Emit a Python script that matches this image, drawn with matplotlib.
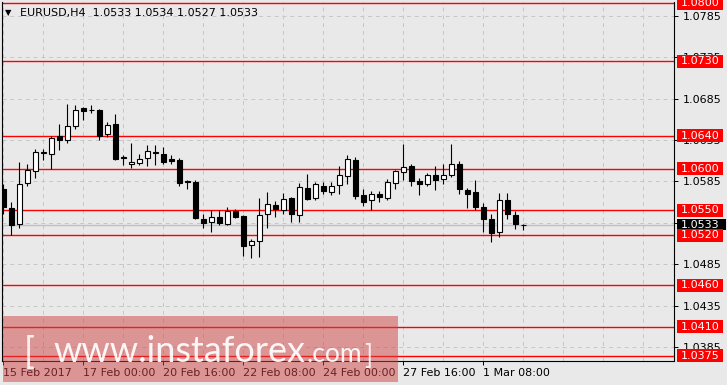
import matplotlib
matplotlib.use("Agg")
import matplotlib.pyplot as plt
from matplotlib.patches import Rectangle
from matplotlib.transforms import blended_transform_factory
import numpy as np

# EURUSD H4 candles
opens = [1.05762, 1.05532, 1.05339, 1.05834, 1.05979, 1.06190, 1.06184, 1.06394, 1.06353, 1.06523,
         1.06732, 1.06706, 1.06708, 1.06426, 1.06547, 1.06144, 1.06060, 1.06076, 1.06136, 1.06209,
         1.06184, 1.06116, 1.06112, 1.05850, 1.05846, 1.05399, 1.05359, 1.05415, 1.05335, 1.05488,
         1.05436, 1.05085, 1.05134, 1.05460, 1.05568, 1.05508, 1.05653, 1.05448, 1.05774, 1.05653,
         1.05798, 1.05725, 1.05810, 1.05919, 1.06112, 1.05689, 1.05629, 1.05701, 1.05649, 1.05830,
         1.05963, 1.06039, 1.05850, 1.05822, 1.05931, 1.05882, 1.05931, 1.06056, 1.05750, 1.05717,
         1.05536, 1.05391, 1.05242, 1.05621, 1.05448, 1.05330]
highs = [1.05814, 1.05601, 1.06080, 1.06056, 1.06237, 1.06237, 1.06398, 1.06547, 1.06780, 1.06768,
         1.06748, 1.06768, 1.06728, 1.06571, 1.06659, 1.06164, 1.06317, 1.06184, 1.06289, 1.06285,
         1.06261, 1.06172, 1.06136, 1.05870, 1.05870, 1.05452, 1.05508, 1.05508, 1.05544, 1.05520,
         1.05444, 1.05158, 1.05645, 1.05725, 1.05617, 1.05705, 1.05661, 1.05830, 1.05935, 1.05846,
         1.05846, 1.05842, 1.06031, 1.06172, 1.06140, 1.05762, 1.05737, 1.05737, 1.05878, 1.05987,
         1.06297, 1.06056, 1.05886, 1.05947, 1.06031, 1.06064, 1.06297, 1.06100, 1.05766, 1.05870,
         1.05584, 1.05452, 1.05709, 1.05709, 1.05488, 1.05340]
lows = [1.05460, 1.05198, 1.05287, 1.05794, 1.05890, 1.06108, 1.05995, 1.06229, 1.06313, 1.06482,
        1.06591, 1.06680, 1.06349, 1.06386, 1.06108, 1.06047, 1.06007, 1.06047, 1.06035, 1.06047,
        1.06056, 1.06056, 1.05794, 1.05758, 1.05391, 1.05287, 1.05238, 1.05323, 1.05319, 1.05407,
        1.04956, 1.04928, 1.04936, 1.05287, 1.05419, 1.05452, 1.05359, 1.05359, 1.05621, 1.05629,
        1.05693, 1.05685, 1.05697, 1.05822, 1.05641, 1.05552, 1.05500, 1.05605, 1.05625, 1.05758,
        1.05862, 1.05790, 1.05685, 1.05794, 1.05746, 1.05814, 1.05903, 1.05697, 1.05528, 1.05504,
        1.05238, 1.05117, 1.05178, 1.05395, 1.05275, 1.05270]
closes = [1.05540, 1.05323, 1.05822, 1.05983, 1.06209, 1.06200, 1.06378, 1.06349, 1.06523, 1.06716,
          1.06700, 1.06710, 1.06402, 1.06535, 1.06120, 1.06128, 1.06088, 1.06124, 1.06221, 1.06192,
          1.06084, 1.06100, 1.05830, 1.05838, 1.05403, 1.05347, 1.05423, 1.05343, 1.05496, 1.05419,
          1.05069, 1.05126, 1.05448, 1.05581, 1.05516, 1.05641, 1.05456, 1.05786, 1.05637, 1.05814,
          1.05733, 1.05798, 1.05931, 1.06124, 1.05673, 1.05605, 1.05701, 1.05665, 1.05846, 1.05979,
          1.06027, 1.05854, 1.05818, 1.05931, 1.05866, 1.05931, 1.06060, 1.05758, 1.05697, 1.05540,
          1.05395, 1.05226, 1.05629, 1.05456, 1.05335, 1.05330]

levels = [1.0800, 1.0730, 1.0640, 1.0600, 1.0550, 1.0520, 1.0460, 1.0410, 1.0375]
bid = 1.0533
ytick_vals = [1.0385, 1.0435, 1.0485, 1.0535, 1.0585, 1.0635, 1.0685, 1.0735, 1.0785]
xtick_labels = ["15 Feb 2017", "17 Feb 00:00", "20 Feb 16:00", "22 Feb 08:00",
                "24 Feb 00:00", "27 Feb 16:00", "1 Mar 08:00"]

bg = "#e9e9e9"
W, H = 727, 385
fig = plt.figure(figsize=(W / 100, H / 100), dpi=100, facecolor=bg)
# axes box in pixels: x 2..674, y 2..361
ax = fig.add_axes([2 / W, (H - 361) / H, 672 / W, 359 / H], facecolor=bg)

o = np.array(opens)
h = np.array(highs)
l = np.array(lows)
c = np.array(closes)
x = np.arange(len(o))

ax.vlines(x, l, h, color="black", linewidth=0.8, zorder=3)
fill = np.where(c >= o, "white", "black")
ax.bar(x, np.abs(c - o), bottom=np.minimum(o, c), width=0.56, color=fill,
       edgecolor="black", linewidth=0.8, zorder=4)

for lv in levels:
    ax.axhline(lv, color="red", linewidth=1.0, zorder=2)
ax.axhline(bid, color="#c0c0c0", linewidth=1.0, zorder=1.8)

ax.set_xlim(-0.16, 83.84)
ax.set_ylim(1.03684, 1.08014)

ax.set_xticks(np.arange(0, 70, 10))
ax.set_xticks(np.arange(0, 85, 5), minor=True)
ax.set_xticklabels(xtick_labels, ha="left", fontsize=8)
ax.set_yticks(ytick_vals)
ax.set_yticklabels(["%.4f" % v for v in ytick_vals], fontsize=8)
ax.yaxis.tick_right()
ax.tick_params(axis="x", which="major", direction="out", length=3, width=0.7, pad=2)
ax.tick_params(axis="x", which="minor", length=0)
ax.tick_params(axis="y", direction="out", length=3, width=0.7, pad=3)
ax.grid(True, which="both", axis="x", color="#c6c6c6", linestyle=(0, (4, 4)), linewidth=0.7)
ax.grid(True, which="major", axis="y", color="#c6c6c6", linestyle=(0, (4, 4)), linewidth=0.7)
ax.set_axisbelow(True)
for s in ["left", "right", "bottom"]:
    ax.spines[s].set_linewidth(0.8)
ax.spines["top"].set_visible(False)

# price labels on the right
tr = blended_transform_factory(ax.transAxes, ax.transData)
bh = 13 / 8290
ax.add_patch(Rectangle((674 / 672 + 0.0015, bid - 5.5 / 8290), 49 / 672, 11 / 8290,
                       transform=tr, facecolor="black", clip_on=False, zorder=5))
ax.text(679 / 672, bid, "%.4f" % bid, transform=tr, color="white", fontsize=8,
        va="center", ha="left", clip_on=False, zorder=6)
for lv in levels:
    ax.add_patch(Rectangle((674 / 672 + 0.0015, lv - bh / 2), 46 / 672, bh,
                           transform=tr, facecolor="red", clip_on=False, zorder=7))
    ax.text(679 / 672, lv, "%.4f" % lv, transform=tr, color="white", fontsize=8,
            va="center", ha="left", clip_on=False, zorder=8)

# header
fig.text(5 / W, 1 - 13 / H, "\u25bc", fontsize=6, va="center", ha="left")
fig.text(20 / W, 1 - 13 / H, "EURUSD,H4  1.0533 1.0534 1.0527 1.0533",
         fontsize=8, va="center", ha="left")

# watermark
fig.patches.append(Rectangle((3 / W, (H - 382) / H), 395 / W, 66 / H, transform=fig.transFigure,
                             facecolor=(0.82, 0.26, 0.26), alpha=0.5, edgecolor="none", zorder=10))
fig.text(24 / W, 1 - 364 / H, "[", fontsize=26, family="Lato",
         color="white", alpha=0.85, va="baseline", ha="left", zorder=11)
fig.text(53 / W, 1 - 362 / H, "www.instaforex", fontsize=26, family="Lato",
         color="white", alpha=0.92, va="baseline", ha="left", zorder=11)
fig.text(306 / W, 1 - 362 / H, ".com", fontsize=19, family="Lato",
         color="white", alpha=0.92, va="baseline", ha="left", zorder=11)
fig.text(364 / W, 1 - 364 / H, "]", fontsize=19, family="Lato",
         color="white", alpha=0.85, va="baseline", ha="left", zorder=11)

fig.savefig("out.png", dpi=100, facecolor=bg)
